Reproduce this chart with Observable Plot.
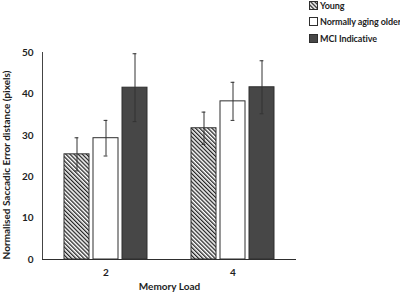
<!DOCTYPE html>
<html>
<head>
<meta charset="utf-8">
<script src="https://cdn.jsdelivr.net/npm/d3@7"></script>
<script src="https://cdn.jsdelivr.net/npm/@observablehq/plot@0.6"></script>
<style>
  body { margin: 0; background: #fff; }
  #chart { position: relative; width: 400px; height: 293px; font-family: Lato, "Noto Sans", sans-serif; }
  #legend { position: absolute; left: 309px; top: -3px; font-weight: bold; font-size: 9px; letter-spacing: -0.1px; color: #1e1e1e; }
  #legend .item { display: flex; align-items: center; height: 16.5px; white-space: nowrap; }
  #legend svg { margin-right: 2px; }
</style>
</head>
<body>
<div id="chart"><div id="legend"></div></div>
<script>
// Memory load conditions and participant groups
const loads = ["2", "4"];
const groups = ["Young", "Normally aging older", "MCI Indicative"];

// Mean normalised saccadic error distance (pixels), one value per memory load
const youngMean = [25.4, 31.7];
const olderMean = [29.3, 38.2];
const mciMean = [41.5, 41.6];

// Error bar half-lengths
const youngErr = [4.0, 3.9];
const olderErr = [4.3, 4.6];
const mciErr = [8.2, 6.4];

const yTicks = [0, 10, 20, 30, 40, 50];
const yLabel = "Normalised Saccadic Error distance (pixels)";

const groupFills = ["url(#hatch)", "#ffffff", "#474747"];

const means = [youngMean, olderMean, mciMean];
const errs = [youngErr, olderErr, mciErr];
const rows = [];
loads.forEach((load, i) => {
  groups.forEach((group, g) => {
    rows.push({load, group, mean: means[g][i], err: errs[g][i]});
  });
});

const ink = "#2e2e2e";

const plot = Plot.plot({
  width: 400,
  height: 293,
  marginLeft: 41,
  marginRight: 104,
  marginTop: 52,
  marginBottom: 34,
  style: {fontFamily: "Lato, 'Noto Sans', sans-serif", fontSize: "10px", fontWeight: "bold", color: "#1e1e1e", background: "white"},
  fx: {domain: loads, padding: 0},
  x: {domain: groups, paddingInner: 0.13, paddingOuter: 0.69, axis: null},
  y: {domain: [0, 50]},
  color: {domain: groups, range: groupFills},
  marks: [
    Plot.frame({anchor: "left", facetAnchor: "left", stroke: "#444"}),
    Plot.barY(rows, {fx: "load", x: "group", y: "mean", fill: "group", stroke: ink, strokeWidth: 1}),
    Plot.ruleY([0], {stroke: ink}),
    Plot.ruleX(rows, {fx: "load", x: "group", y1: d => d.mean - d.err, y2: d => d.mean + d.err, stroke: "#333"}),
    Plot.tickY(rows, {fx: "load", x: "group", y: d => d.mean - d.err, stroke: "#333", insetLeft: 10.6, insetRight: 10.6}),
    Plot.tickY(rows, {fx: "load", x: "group", y: d => d.mean + d.err, stroke: "#333", insetLeft: 10.6, insetRight: 10.6}),
    Plot.axisY({ticks: yTicks, tickFormat: d3.format("d"), tickSize: 0, tickPadding: 9, label: null}),
    // Rotated y-axis title, drawn once beside the leftmost facet
    Plot.text([yLabel], {
      text: d => d, frameAnchor: "left", facetAnchor: "left", rotate: -90,
      dx: -36, dy: 9, textAnchor: "middle", fontSize: 10, fontWeight: "bold", fill: "#1e1e1e"
    }),
    Plot.axisFx({
      anchor: "bottom", tickSize: 0, tickPadding: 9,
      label: "Memory Load", labelAnchor: "center", labelArrow: "none", labelOffset: 30
    })
  ]
});

// Diagonal hatch used by the "Young" bars
function addHatch(svg, id) {
  const p = d3.select(svg).append("defs").append("pattern")
    .attr("id", id)
    .attr("patternUnits", "userSpaceOnUse")
    .attr("width", 2.9).attr("height", 2.9)
    .attr("patternTransform", "rotate(-45)");
  p.append("rect").attr("width", 2.9).attr("height", 2.9).attr("fill", "#fff");
  p.append("rect").attr("width", 1.3).attr("height", 2.9).attr("fill", "#222");
}
addHatch(plot, "hatch");

document.getElementById("chart").prepend(plot);

// Legend
const legend = d3.select("#legend");
groups.forEach((g, i) => {
  const item = legend.append("div").attr("class", "item");
  const sw = item.append("svg").attr("width", 9).attr("height", 9);
  if (i === 0) addHatch(sw.node(), "hatch-key");
  sw.append("rect").attr("x", 0.5).attr("y", 0.5).attr("width", 8).attr("height", 8)
    .attr("fill", i === 0 ? "url(#hatch-key)" : groupFills[i]).attr("stroke", ink);
  item.append("span").text(g);
});
</script>
</body>
</html>
